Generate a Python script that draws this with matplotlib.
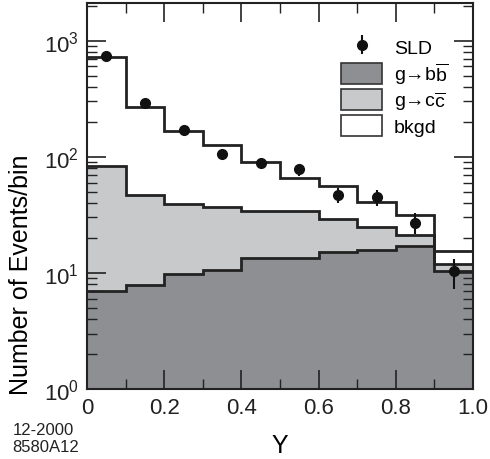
import numpy as np
import matplotlib
matplotlib.use("Agg")
import matplotlib.pyplot as plt
from matplotlib.patches import Patch

plt.rcParams['font.family'] = ['Liberation Sans', 'DejaVu Sans']
plt.rcParams['mathtext.fontset'] = 'custom'
plt.rcParams['mathtext.rm'] = 'Liberation Sans'

# bin edges in Y
edges = np.linspace(0.0, 1.0, 11)
centers = [0.05, 0.15, 0.25, 0.35, 0.45, 0.55, 0.65, 0.75, 0.85, 0.95]

# stacked MC: g->bb, g->bb + g->cc, total (with bkgd)
bb = [7.0, 7.8, 9.7, 10.5, 13.5, 13.5, 15.0, 15.8, 17.1, 10.3]
bb_cc = [84, 47.3, 39.1, 36.8, 33.8, 33.8, 29.4, 24.9, 21.3, 11.9]
total = [728, 270, 168, 127, 90.6, 65.9, 55.9, 40.7, 31.6, 15.3]

# SLD data
sld = [733, 292, 169, 105, 88.8, 77.8, 47.0, 44.6, 27.0, 10.3]
sld_err = [27, 17, 13, 10, 9, 9, 7, 7, 5.5, 3]

dark = '#8e8f93'
light = '#c8c9cb'
lc = '#222222'

fig = plt.figure(figsize=(4.9, 4.6), dpi=100)
ax = fig.add_axes([0.1776, 0.152, 0.7877, 0.839])

ymin = 1.0
ax.stairs(bb, edges, baseline=ymin, fill=True, color=dark, lw=0)
ax.stairs(bb_cc, edges, baseline=bb, fill=True, color=light, lw=0)
for vals in (bb, bb_cc, total):
    ax.stairs(vals, edges, baseline=None, color=lc, lw=2.0)

ax.errorbar(centers, sld, yerr=sld_err, fmt='o', color='#111111',
            ms=7, elinewidth=1.5, capsize=0, zorder=5)

ax.set_yscale('log')
ax.set_xlim(0, 1.0)
ax.set_ylim(1.0, 2100)

ax.set_xticks([0, 0.2, 0.4, 0.6, 0.8, 1.0])
ax.set_xticklabels(['0', '0.2', '0.4', '0.6', '0.8', '1.0'])
ax.set_xticks(np.arange(0.1, 1.0, 0.2), minor=True)
ax.tick_params(which='both', direction='in', top=True, right=True,
               labelsize=16, colors='#222222')
ax.tick_params(which='major', length=14, width=1.2, pad=6)
ax.tick_params(which='minor', length=7, width=1.0)
ax.tick_params(axis='y', which='minor', labelleft=False)
for s in ax.spines.values():
    s.set_linewidth(1.5)
    s.set_color('#222222')

ax.set_xlabel('Y', fontsize=18)
ax.xaxis.set_label_coords(0.5, -0.115)
ax.set_ylabel('Number of Events/bin', fontsize=18)
ax.yaxis.set_label_coords(-0.14, 0.30)

handles = [
    ax.errorbar([], [], yerr=[], fmt='o', color='#111111', ms=7, elinewidth=1.5),
    Patch(facecolor=dark, edgecolor='#333333', lw=1.2),
    Patch(facecolor=light, edgecolor='#333333', lw=1.2),
    Patch(facecolor='white', edgecolor='#333333', lw=1.2),
]
labels = ['SLD', r'g→b$\overline{\rm b}$', r'g→c$\overline{\rm c}$', 'bkgd']
ax.legend(handles, labels, loc='upper right', bbox_to_anchor=(0.97, 0.95),
          frameon=False, fontsize=14, handlelength=2.1, handleheight=1.3,
          labelspacing=0.15, handletextpad=0.6, borderpad=0.2)

fig.text(0.025, 0.054, '12-2000', fontsize=12, color='#222222')
fig.text(0.025, 0.017, '8580A12', fontsize=12, color='#222222')

fig.savefig('out.png', dpi=100)
